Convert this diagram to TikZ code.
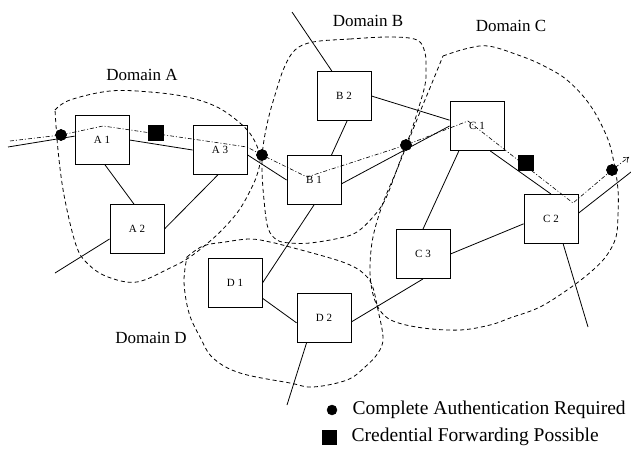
\documentclass[tikz,border=0pt]{standalone}
\usepackage{fontspec}
\setmainfont{Liberation Serif}
\usepackage{tikz}
\usetikzlibrary{positioning, shapes.geometric, arrows.meta}
\tikzset{
    router/.style={
        draw, minimum width = 54pt,
        minimum height = 49pt,
        line width = 0.9pt,
        font = \fontsize{11}{13}\selectfont
    },
    wire/.style = {line width = 0.8pt},
    zoneline/.style = {dash pattern = on 4pt off 3pt, line width = 0.8pt},
    routeline/.style = {dash pattern = on 4pt off 2pt on 1pt off 2pt, line width = 0.6pt},
    authdot/.style = {draw, circle, fill, inner sep = 0pt, minimum size = 11pt},
    fwdbox/.style = {draw, rectangle, fill, inner sep = 0pt, minimum size = 15pt},
    domname/.style = {font = \fontsize{17}{20}\selectfont},
    keytext/.style = {font = \fontsize{19.5}{22}\selectfont}
}
\begin{document}
\begin{tikzpicture}[x=1pt, y=-1pt]
\useasboundingbox (0,0) rectangle (631,449);

% Domains
\draw[zoneline] plot[smooth, tension=0.6] coordinates {(55,110) (70,100) (110,91) (150,92) (187,97) (217,107) (240,123) (253,138) (260,157) (257,175) (248,195) (237,213) (220,232) (203,247) (187,259) (170,268) (137,282) (108,277) (88,264) (76,245) (64,195) (58,150) (55,110)};
\draw[zoneline] plot[smooth cycle, tension=0.6] coordinates {(313,42) (350,39) (390,37) (417,40) (425,53) (426,70) (425,85) (418,110) (410,135) (405,147) (396,172) (385,200) (373,217) (357,232) (340,238) (310,243) (290,243) (277,240) (268,228) (264,200) (262,170) (263,147) (268,120) (275,95) (284,68) (295,50)};
\draw[zoneline] plot[smooth, tension=0.6] coordinates {(443,56) (465,49) (488,46) (518,55) (542,65) (567,80) (590,105) (607,137) (614,163) (618,190) (618,215) (616,237) (607,255) (593,270) (570,288) (540,307) (510,318) (490,325) (460,330) (423,328) (393,321) (379,309) (372,290) (370,267) (373,237) (383,203) (396,172) (406,147) (420,112) (432,83) (443,56)};
\draw[zoneline] plot[smooth, tension=0.6] coordinates {(187,257) (203,246) (225,242) (250,239) (270,242) (290,247) (330,258) (350,265) (363,273) (372,285) (378,310) (383,338) (378,353) (365,367) (347,380) (313,387) (290,383) (240,373) (213,358) (200,337) (189,313) (184,282) (187,257)};

\node[domname] (nameA) at (142,75) {Domain A};
\node[domname] (nameB) at (368,21) {Domain B};
\node[domname] (nameC) at (511,26) {Domain C};
\node[domname] (nameD) at (151,338) {Domain D};

% Routers
\node[router] (a1) at (102,140) {A 1};
\node[router] (a2) at (137,229) {A 2};
\node[router] (a3) at (220,150) {A 3};
\node[router] (b1) at (314,180) {B 1};
\node[router] (b2) at (344,96) {B 2};
\node[router] (c1) at (477,126) {C 1};
\node[router] (c2) at (551,219) {C 2};
\node[router] (c3) at (423,254) {C 3};
\node[router] (d1) at (235,283) {D 1};
\node[router] (d2) at (324,318) {D 2};

% Free ends
\coordinate (westend) at (8,147);
\coordinate (swend) at (55,273);
\coordinate (topend) at (292,12);
\coordinate (bottomend) at (287,405);
\coordinate (southend) at (588,327);
\coordinate (eastend) at (631,172);

% Links
\draw[wire] (westend) -- (a1.172);
\draw[wire] (a1.east) -- (a3.west);
\draw[wire] (a1.-83) -- (a2.97);
\draw[wire] (a3.-95) -- (a2.east);
\draw[wire] (a2.200) -- (swend);
\draw[wire] (a3.-10) -- (b1.west);
\draw[wire] (b1.55) -- (b2.-83);
\draw[wire] (b2.116) -- (topend);
\draw[wire] (b1.south) -- (d1.east);
\draw[wire] (b1.-8) -- (c1.west);
\draw[wire] (b2.east) -- (c1.168);
\draw[wire] (d1.-29) -- (d2.190);
\draw[wire] (d2.-125) -- (bottomend);
\draw[wire] (d2.-8) -- (c3.south);
\draw[wire] (c1.-126) -- (c3.north);
\draw[wire] (c1.-62) -- (c2.north);
\draw[wire] (c3.east) -- (c2.190);
\draw[wire] (c2.12) -- (eastend);
\draw[wire] (c2.-64) -- (southend);

% Route
\coordinate (r0) at (10,141);
\coordinate (r1) at (103,126);
\coordinate (r2) at (247,147);
\coordinate (r3) at (307,177);
\coordinate (r4) at (468,121);
\coordinate (r5) at (573,203);
\coordinate (r6) at (629,157);
\node[authdot] (auth1) at (61,135) {};
\node[authdot] (auth2) at (262,155) {};
\node[authdot] (auth3) at (406,145) {};
\node[authdot] (auth4) at (612,170) {};
\draw[routeline, -{To[length=5pt, width=7pt]}] (r0) -- (auth1.center) -- (r1) -- (r2) -- (auth2.center) -- (r3) -- (auth3.center) -- (r4) -- (r5) -- (auth4.center) -- (r6);
\node[authdot] at (auth1) {};
\node[authdot] at (auth2) {};
\node[authdot] at (auth3) {};
\node[authdot] at (auth4) {};
\node[fwdbox] (fwd1) at (156,133) {};
\node[fwdbox] (fwd2) at (526,163) {};

% Legend
\node[authdot, minimum size = 10pt] (keyauth) at (332,410) {};
\node[keytext, right = 12pt of keyauth] (keyauthtext) {Complete Authentication Required};
\node[fwdbox, minimum size = 14pt] (keyfwd) at (329,437) {};
\node[keytext, right = 12pt of keyfwd] (keyfwdtext) {Credential Forwarding Possible};

\end{tikzpicture}
\end{document}
